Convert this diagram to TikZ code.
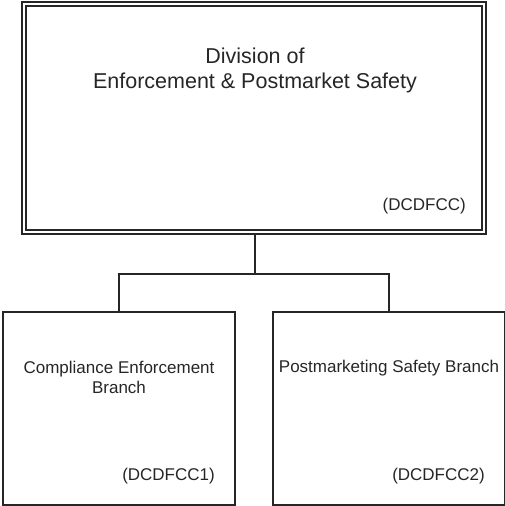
\documentclass[tikz,border=0pt]{standalone}
\usepackage{fontspec}
\setmainfont{Liberation Sans}
\begin{document}
\begin{tikzpicture}[x=1pt,y=-1pt,
  line/.style={line width=1.4pt,draw=black!85},
  bigtxt/.style={font=\fontsize{21.5}{25}\selectfont,align=center,inner sep=0pt,text=black!85},
  smalltxt/.style={font=\fontsize{17}{20}\selectfont,align=center,inner sep=0pt,text=black!85}]
\useasboundingbox (0,0) rectangle (504,506);
% top box
\draw[line] (22,2) rectangle (486,234);
\draw[line] (26,6) rectangle (482,230);
\coordinate (topb) at (255,234);
\node[bigtxt] (t1) at (255,70) {Division of\\Enforcement \& Postmarket Safety};
\node[smalltxt,anchor=east] (t2) at (466,206) {(DCDFCC)};
% bottom boxes
\draw[line] (3,312) rectangle (235,505);
\draw[line] (273,312) rectangle (505,505);
\coordinate (lb) at (119,312);
\coordinate (rb) at (389,312);
\node[smalltxt] (l1) at (119,377) {Compliance Enforcement\\Branch};
\node[smalltxt,anchor=east] (l2) at (215,476) {(DCDFCC1)};
\node[smalltxt] (r1) at (389,368) {Postmarketing Safety Branch};
\node[smalltxt,anchor=east] (r2) at (485,476) {(DCDFCC2)};
% connectors
\coordinate (mid) at (255,274);
\draw[line] (topb) -- (mid);
\draw[line] (lb) |- (mid) -| (rb);
\end{tikzpicture}
\end{document}
